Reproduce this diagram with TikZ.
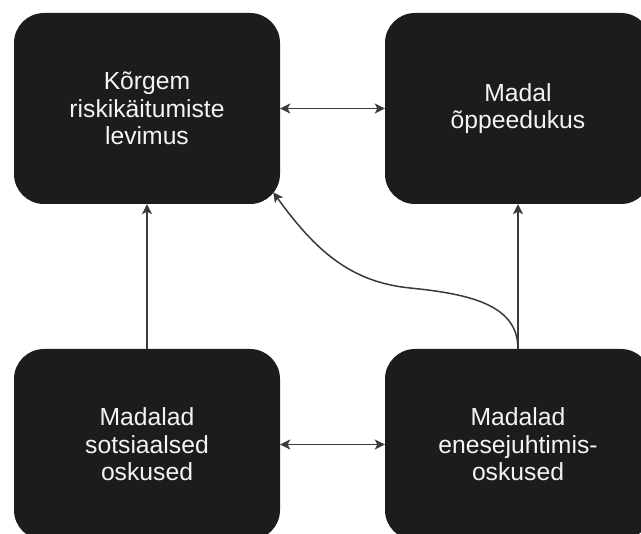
\documentclass[tikz,border=0pt]{standalone}
\usepackage{fontspec}
\setmainfont{Liberation Sans}
\usetikzlibrary{arrows.meta}
\definecolor{boxfill}{HTML}{1C1C1C}
\definecolor{linegray}{HTML}{3A3A3A}
\definecolor{txt}{HTML}{F4F4F4}
\tikzset{
  blackbox/.style={rectangle, rounded corners=30pt, fill=boxfill, text=txt,
    minimum width=266pt, minimum height=191pt, align=center, inner sep=0pt,
    font=\fontsize{24.7pt}{27.5pt}\selectfont},
  tip/.tip={Stealth[length=10pt,width=10pt,inset=2.5pt]},
  conn/.style={draw=linegray, line width=1.5pt, -tip},
  bidir/.style={conn, tip-tip}
}
\begin{document}
\begin{tikzpicture}[x=1pt,y=-1pt]
\path[use as bounding box, clip] (0,0) rectangle (641,534);
\fill[white] (0,0) rectangle (641,534);
\node[blackbox] (tl) at (147,108.5) {Kõrgem\\riskikäitumiste\\levimus};
\node[blackbox] (tr) at (518,108.5) {Madal\\õppeedukus};
\node[blackbox] (bl) at (147,444.5) {Madalad\\sotsiaalsed\\oskused};
\node[blackbox] (br) at (518,444.5) {Madalad\\enesejuhtimis-\\oskused};
\coordinate (bend) at (410,288);
\draw[bidir] (tl) -- (tr);
\draw[bidir] (bl) -- (br);
\draw[conn] (bl) -- (tl);
\draw[conn] (br) -- (tr);
\draw[conn] (br.north) .. controls +(0,-44) and (470,294) .. (bend)
  .. controls (350,282) and (315,250) .. ([xshift=-7pt,yshift=12pt]tl.south east);
\end{tikzpicture}
\end{document}
